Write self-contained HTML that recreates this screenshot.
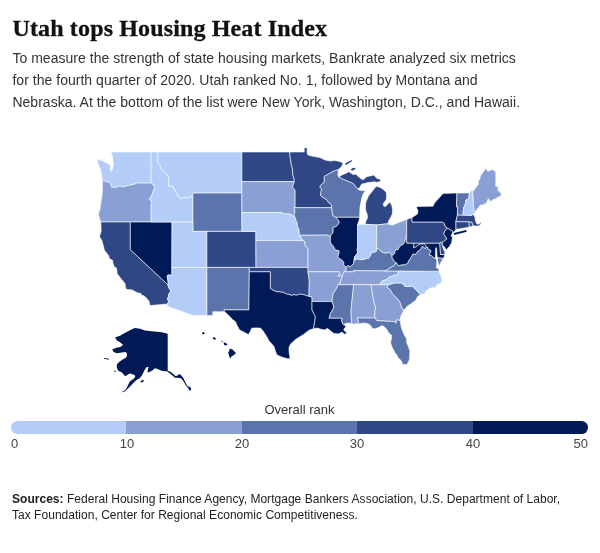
<!DOCTYPE html>
<html lang="en">
<head>
<meta charset="utf-8">
<title>Utah tops Housing Heat Index</title>
<style>
html,body{margin:0;padding:0;background:#fff;}
body{width:600px;height:553px;position:relative;overflow:hidden;font-family:"Liberation Sans",Arial,sans-serif;color:#333;}
h1{position:absolute;left:12.5px;top:12.5px;margin:0;font-family:"Liberation Serif","DejaVu Serif",serif;font-weight:700;font-size:24px;line-height:30px;color:#111;white-space:nowrap;letter-spacing:.14px;-webkit-text-stroke:.3px #111;}
p.desc{position:absolute;left:12.4px;top:47.3px;margin:0;font-size:14px;line-height:22px;color:#333;white-space:nowrap;letter-spacing:.03px;}
#map{position:absolute;left:0;top:130px;width:600px;height:270px;}
.legtitle{position:absolute;left:-0.5px;width:600px;top:401.6px;text-align:center;font-size:13px;line-height:16px;color:#333;}
.bar{position:absolute;left:11px;top:421px;width:577px;height:12.8px;border-radius:6.4px;overflow:hidden;display:flex;}
.bar i{display:block;flex:1 1 0;height:12.8px;}
.ticks span{position:absolute;top:436.3px;font-size:13px;line-height:16px;color:#444;width:40px;text-align:center;}
p.src{position:absolute;left:12px;top:490.6px;margin:0;font-size:12px;line-height:16px;color:#222;white-space:nowrap;letter-spacing:.028px;}
</style>
</head>
<body>
<h1>Utah tops Housing Heat Index</h1>
<p class="desc">To measure the strength of state housing markets, Bankrate analyzed six metrics<br>for the fourth quarter of 2020. Utah ranked No. 1, followed by Montana and<br>Nebraska. At the bottom of the list were New York, Washington, D.C., and Hawaii.</p>
<svg id="map" viewBox="0 130 600 270">
<g stroke="#fff" stroke-opacity=".75" stroke-width=".8" stroke-linejoin="round">
<path fill="#b3cdf8" d="M111.0,152.0L151.1,152.0L151.0,178.8L151.9,183.1L137.4,183.1L135.2,183.9L130.3,185.1L126.1,186.1L122.2,187.1L119.8,186.1L114.9,187.6L111.4,187.1L110.7,184.6L109.3,182.1L106.5,181.6L102.1,180.6L101.9,176.5L101.2,173.4L100.5,169.8L97.7,163.6L97.6,158.8L102.0,160.6L106.0,162.5L109.6,164.6L110.6,166.5L110.2,170.0L111.2,171.6L112.3,169.0L113.3,165.0L112.8,158.0Z"/>
<path fill="#8aa0d5" d="M102.1,180.6L102.5,184.1L102.3,193.1L101.8,197.0L99.9,209.2L98.4,214.2L99.4,218.3L100.8,222.0L130.3,222.0L151.1,222.0L151.1,204.8L151.6,202.9L151.5,200.5L149.8,200.0L149.9,198.0L152.0,194.7L152.4,193.4L153.4,190.6L154.9,187.1L153.4,185.1L151.9,183.1L137.4,183.1L135.2,183.9L130.3,185.1L126.1,186.1L122.2,187.1L119.8,186.1L114.9,187.6L111.4,187.1L110.7,184.6L109.3,182.1L106.5,181.6Z"/>
<path fill="#2f4785" d="M100.8,222.0L100.9,224.4L101.2,230.9L99.5,236.6L101.9,240.6L103.7,247.0L104.3,250.1L108.9,255.9L109.3,258.6L112.8,260.4L112.8,263.0L114.2,266.6L116.3,267.9L117.0,270.9L117.0,273.5L121.5,279.2L125.0,283.5L125.7,288.3L127.0,289.4L132.4,289.9L135.9,292.0L138.7,293.2L140.8,293.2L141.5,295.3L143.9,295.8L146.4,297.9L149.2,301.6L149.6,304.4L150.5,305.5L167.3,304.0L168.8,301.6L167.4,299.1L168.4,296.6L168.8,294.1L170.2,292.0L171.3,290.7L169.7,289.4L168.1,286.0L167.9,284.7L130.3,249.7L130.3,222.0Z"/>
<path fill="#001a57" d="M130.3,222.0L151.1,222.0L172.0,222.0L171.9,267.4L171.9,274.8L169.9,275.3L168.1,274.8L167.1,276.0L167.7,279.6L168.3,283.0L167.9,284.7L130.3,249.7Z"/>
<path fill="#b3cdf8" d="M151.1,152.0L157.9,152.0L157.9,162.6L160.4,165.7L160.4,168.3L163.2,170.4L165.6,172.9L168.2,176.5L169.1,180.1L168.8,183.1L168.4,186.1L172.7,186.2L174.0,188.6L176.1,192.6L177.5,195.1L180.4,198.5L184.1,197.4L187.0,198.0L189.7,197.0L190.0,195.9L191.3,196.3L192.2,197.5L192.9,198.2L192.9,222.0L172.0,222.0L151.1,222.0L151.1,204.8L151.6,202.9L151.5,200.5L149.8,200.0L149.9,198.0L152.0,194.7L152.4,193.4L153.4,190.6L154.9,187.1L153.4,185.1L151.9,183.1L151.0,178.8Z"/>
<path fill="#b3cdf8" d="M157.9,152.0L241.9,152.0L241.9,181.6L241.9,193.1L192.9,193.1L192.9,198.2L192.2,197.5L191.3,196.3L190.0,195.9L189.7,197.0L187.0,198.0L184.1,197.4L180.4,198.5L177.5,195.1L176.1,192.6L174.0,188.6L172.7,186.2L168.4,186.1L168.8,183.1L169.1,180.1L168.2,176.5L165.6,172.9L163.2,170.4L160.4,168.3L160.4,165.7L157.9,162.6Z"/>
<path fill="#5b75ac" d="M192.9,198.2L192.9,193.1L241.9,193.1L241.9,212.5L241.9,231.4L206.9,231.4L192.9,231.4L192.9,222.0Z"/>
<path fill="#b3cdf8" d="M172.0,222.0L192.9,222.0L192.9,231.4L206.9,231.4L206.9,267.4L171.9,267.4Z"/>
<path fill="#b3cdf8" d="M171.9,267.4L206.9,267.4L206.9,315.4L192.8,315.4L166.6,305.9L167.3,304.0L168.8,301.6L167.4,299.1L168.4,296.6L168.8,294.1L170.2,292.0L171.3,290.7L169.7,289.4L168.1,286.0L167.9,284.7L168.3,283.0L167.7,279.6L167.1,276.0L168.1,274.8L169.9,275.3L171.9,274.8Z"/>
<path fill="#2f4785" d="M206.9,231.4L241.9,231.4L255.9,231.4L255.9,240.6L256.0,267.4L249.3,267.4L206.9,267.4Z"/>
<path fill="#5b75ac" d="M206.9,267.4L249.3,267.4L249.3,271.8L248.9,309.9L224.0,309.9L224.6,311.7L212.8,311.7L212.8,315.4L206.9,315.4Z"/>
<path fill="#2f4785" d="M241.9,152.0L289.7,152.0L290.2,157.3L291.1,163.3L292.4,168.8L292.8,174.2L294.0,179.1L294.4,181.6L241.9,181.6Z"/>
<path fill="#8aa0d5" d="M241.9,181.6L294.4,181.6L292.4,187.1L295.1,190.1L295.1,207.7L294.1,207.7L294.8,210.6L294.8,212.5L293.9,214.9L295.1,217.4L293.4,216.4L291.3,214.8L288.5,213.8L285.0,214.0L280.8,212.5L241.9,212.5L241.9,193.1Z"/>
<path fill="#b3cdf8" d="M241.9,212.5L280.8,212.5L285.0,214.0L288.5,213.8L291.3,214.8L293.4,216.4L295.1,217.4L295.9,220.2L296.9,222.0L297.6,226.7L298.9,229.0L299.2,231.4L299.4,234.4L299.9,235.3L301.1,237.8L303.1,240.6L255.9,240.6L255.9,231.4L241.9,231.4Z"/>
<path fill="#8aa0d5" d="M255.9,240.6L303.1,240.6L305.3,242.0L304.6,244.7L306.0,246.5L308.0,248.8L308.0,267.4L256.0,267.4Z"/>
<path fill="#2f4785" d="M256.0,267.4L308.0,267.4L308.0,271.8L309.3,281.3L308.9,296.3L306.7,295.8L303.2,294.5L299.7,294.1L296.2,295.3L294.1,294.5L291.3,295.6L289.9,294.5L286.4,294.1L283.6,292.4L280.1,292.0L275.9,291.5L272.4,289.9L270.3,288.5L270.3,271.8L249.3,271.8L249.3,267.4Z"/>
<path fill="#001a57" d="M249.3,271.8L270.3,271.8L270.3,288.5L272.4,289.9L275.9,291.5L280.1,292.0L283.6,292.4L286.4,294.1L289.9,294.5L291.3,295.6L294.1,294.5L296.2,295.3L299.7,294.1L303.2,294.5L306.7,295.8L308.9,296.3L312.0,297.0L312.0,301.5L312.0,309.9L313.6,313.2L315.4,316.5L314.9,320.6L314.3,323.8L314.0,326.3L313.4,328.7L309.5,329.9L306.7,331.9L303.2,334.7L298.6,337.5L295.5,339.5L290.6,343.9L288.9,347.8L289.2,353.3L290.2,358.4L287.8,358.8L282.2,357.2L276.9,354.9L275.5,351.3L273.8,346.2L268.9,340.7L266.8,336.7L262.9,330.7L260.5,328.0L254.2,327.9L251.7,328.3L249.6,332.7L248.2,334.5L243.7,331.9L239.5,329.9L237.4,325.9L235.3,321.4L232.5,319.4L228.3,314.9L224.6,311.7L224.0,309.9L248.9,309.9Z"/>
<path fill="#2f4785" d="M289.7,152.0L304.2,152.0L304.2,147.7L307.1,147.7L307.1,152.8L308.0,155.0L314.0,156.5L320.0,157.5L325.0,160.0L330.0,161.0L334.5,160.5L340.0,161.5L343.0,163.0L342.0,166.0L338.5,169.5L333.0,171.5L328.5,174.0L324.3,176.4L324.3,182.3L322.1,183.9L320.2,185.8L320.1,187.4L321.7,189.1L320.8,192.6L320.7,195.6L322.6,197.3L326.1,199.2L328.7,202.4L331.5,204.8L331.8,207.7L295.1,207.7L295.1,190.1L292.4,187.1L294.4,181.6L294.0,179.1L292.8,174.2L292.4,168.8L291.1,163.3L290.2,157.3Z"/>
<path fill="#5b75ac" d="M295.1,207.7L331.8,207.7L332.2,212.1L332.8,215.4L335.8,217.3L339.1,221.1L339.0,223.5L336.3,226.5L332.9,227.5L333.3,230.5L332.6,233.2L331.2,234.8L330.4,237.1L328.2,235.1L299.9,235.3L299.4,234.4L299.2,231.4L298.9,229.0L297.6,226.7L296.9,222.0L295.9,220.2L295.1,217.4L293.9,214.9L294.8,212.5L294.8,210.6L294.1,207.7Z"/>
<path fill="#8aa0d5" d="M299.9,235.3L328.2,235.1L330.4,237.1L330.3,241.2L330.9,243.3L332.9,245.6L335.4,249.7L339.2,250.8L339.0,253.0L337.9,256.8L339.9,258.9L341.5,259.5L343.8,262.2L343.7,264.8L346.4,267.4L345.9,270.5L343.8,271.8L343.1,274.0L342.4,276.1L337.7,276.1L339.8,273.5L339.2,271.8L308.0,271.8L308.0,267.4L308.0,248.8L306.0,246.5L304.6,244.7L305.3,242.0L303.1,240.6L301.1,237.8Z"/>
<path fill="#8aa0d5" d="M308.0,271.8L339.2,271.8L339.8,273.5L337.7,276.1L342.4,276.1L341.0,279.6L339.8,283.5L338.2,284.7L336.2,289.0L333.3,293.2L332.2,298.3L332.1,301.6L312.0,301.5L312.0,297.0L308.9,296.3L309.3,281.3Z"/>
<path fill="#001a57" d="M312.0,301.5L332.1,301.6L334.0,307.0L332.6,309.9L330.4,313.6L329.1,318.1L342.2,318.1L341.5,320.6L342.5,323.0L343.6,324.8L344.1,325.1L345.9,325.9L345.2,327.5L343.8,329.1L344.5,331.1L346.6,332.3L345.9,334.3L344.1,333.9L342.4,332.3L340.6,332.7L338.2,333.9L334.0,333.5L331.9,331.9L329.8,330.3L327.4,328.3L324.9,329.9L322.1,329.5L317.2,328.1L313.4,328.7L314.0,326.3L314.3,323.8L314.9,320.6L315.4,316.5L313.6,313.2L312.0,309.9Z"/>
<path fill="#5b75ac" d="M338.5,169.5L337.8,175.0L338.8,176.9L343.3,179.3L348.3,181.3L352.9,183.3L355.0,185.4L357.5,188.8L359.5,190.2L362.0,190.4L365.5,190.8L363.4,193.5L361.8,198.0L360.0,207.0L359.6,217.3L335.8,217.3L332.8,215.4L332.2,212.1L331.8,207.7L331.5,204.8L328.7,202.4L326.1,199.2L322.6,197.3L320.7,195.6L320.8,192.6L321.7,189.1L320.1,187.4L320.2,185.8L322.1,183.9L324.3,182.3L324.3,176.4L328.5,174.0L333.0,171.5Z"/>
<path fill="#001a57" d="M335.8,217.3L359.6,217.3L359.2,220.0L357.6,224.3L357.6,246.5L357.2,249.7L357.6,252.5L356.7,254.2L354.6,256.8L354.1,260.4L353.6,263.5L351.1,266.1L350.1,266.7L347.6,265.7L346.4,267.4L343.7,264.8L343.8,262.2L341.5,259.5L339.9,258.9L337.9,256.8L339.0,253.0L339.2,250.8L335.4,249.7L332.9,245.6L330.9,243.3L330.3,241.2L330.4,237.1L331.2,234.8L332.6,233.2L333.3,230.5L332.9,227.5L336.3,226.5L339.0,223.5L339.1,221.1Z"/>
<path fill="#2f4785" d="M338.8,176.9L342.3,174.7L345.6,173.4L348.8,171.7L351.0,173.0L353.0,174.6L355.9,174.2L359.0,177.1L361.8,179.2L363.7,179.6L366.5,176.7L370.0,175.9L373.9,175.0L375.1,176.4L377.0,178.4L380.3,179.3L380.4,181.7L376.7,182.3L374.2,181.8L370.8,182.3L367.5,182.6L365.0,183.4L362.7,183.8L361.2,184.6L359.6,188.1L357.5,188.8L355.0,185.4L352.9,183.3L348.3,181.3L343.3,179.3ZM387.5,223.8L388.0,223.4L388.9,220.2L390.7,217.5L392.3,213.9L392.5,209.8L391.9,205.8L390.7,203.1L388.9,202.6L387.1,204.9L385.3,206.7L383.5,205.8L383.2,203.5L384.8,201.7L386.2,199.4L386.6,195.8L386.2,192.2L383.9,189.9L380.8,187.7L376.7,186.3L375.3,187.2L372.6,190.8L370.8,193.1L368.6,195.8L367.2,199.0L365.8,202.6L365.4,206.7L365.8,210.7L367.2,214.4L367.7,217.5L366.3,220.2L364.9,224.3L376.7,224.9Z"/>
<path fill="#b3cdf8" d="M357.6,224.3L364.9,224.3L376.7,224.9L376.6,248.8L376.4,251.5L373.9,252.4L372.5,252.1L371.1,254.6L370.0,256.2L368.6,258.6L366.2,258.6L364.1,259.5L360.9,259.9L357.3,259.1L354.6,260.4L354.1,260.4L354.6,256.8L356.7,254.2L357.6,252.5L357.2,249.7L357.6,246.5Z"/>
<path fill="#8aa0d5" d="M406.7,219.4L397.5,222.9L393.0,225.1L390.0,224.7L387.5,223.8L376.7,224.9L376.6,248.8L378.8,248.8L380.9,251.5L383.9,252.8L385.8,253.3L389.3,252.1L390.4,253.5L392.1,255.0L393.1,254.9L394.9,253.3L394.9,251.5L395.9,249.7L397.7,250.1L399.3,247.2L400.1,246.1L403.3,244.2L404.7,242.0L405.2,240.0L405.9,236.9L406.7,234.7Z"/>
<path fill="#5b75ac" d="M376.6,248.8L378.8,248.8L380.9,251.5L383.9,252.8L385.8,253.3L389.3,252.1L390.4,253.5L392.1,255.0L392.1,257.7L393.4,259.5L394.2,261.7L396.5,262.7L394.2,264.8L393.9,265.7L391.0,267.4L388.9,268.7L387.9,269.6L384.5,270.9L364.8,270.8L353.8,270.5L353.9,271.8L343.8,271.8L345.9,270.5L346.4,267.4L347.6,265.7L350.1,266.7L351.1,266.1L353.6,263.5L354.1,260.4L354.6,260.4L357.3,259.1L360.9,259.9L364.1,259.5L366.2,258.6L368.6,258.6L370.0,256.2L371.1,254.6L372.5,252.1L373.9,252.4L376.4,251.5Z"/>
<path fill="#8aa0d5" d="M343.8,271.8L353.9,271.8L353.8,270.5L364.8,270.8L384.5,270.9L398.5,271.0L398.3,273.1L395.9,275.3L393.5,275.3L392.1,276.6L390.0,276.6L388.6,278.1L385.8,279.9L382.3,280.9L380.5,282.6L380.1,284.7L371.0,284.7L352.9,284.7L338.2,284.7L339.8,283.5L341.0,279.6L342.4,276.1L343.1,274.0Z"/>
<path fill="#5b75ac" d="M338.2,284.7L352.9,284.7L353.6,285.6L351.3,307.5L351.0,310.8L351.5,323.4L350.4,323.4L348.0,323.0L344.9,323.8L343.6,324.8L342.5,323.0L341.5,320.6L342.2,318.1L329.1,318.1L330.4,313.6L332.6,309.9L334.0,307.0L332.1,301.6L332.2,298.3L333.3,293.2L336.2,289.0Z"/>
<path fill="#8aa0d5" d="M352.9,284.7L371.0,284.7L374.0,302.7L375.4,306.1L376.0,307.9L374.9,309.9L374.9,314.0L374.6,316.5L375.3,318.1L357.1,318.1L358.5,321.0L358.5,322.6L357.7,324.0L355.0,323.8L353.6,324.2L351.5,323.4L351.0,310.8L351.3,307.5L353.6,285.6Z"/>
<path fill="#8aa0d5" d="M371.0,284.7L380.1,284.7L388.5,284.7L386.9,287.3L389.6,289.0L390.7,290.3L392.4,293.7L396.5,297.7L399.8,301.6L401.2,305.8L402.6,309.3L404.4,309.7L403.6,310.8L401.9,314.0L400.5,316.9L400.1,320.5L396.6,319.8L396.3,321.4L395.9,323.4L394.9,321.6L389.3,321.4L376.3,320.5L375.3,318.1L374.6,316.5L374.9,314.0L374.9,309.9L376.0,307.9L375.4,306.1L374.0,302.7Z"/>
<path fill="#5b75ac" d="M357.7,324.0L358.5,322.6L358.5,321.0L357.1,318.1L375.3,318.1L376.3,320.5L389.3,321.4L394.9,321.6L395.9,323.4L396.3,321.4L396.6,319.8L400.1,320.5L400.5,323.0L401.2,327.1L403.3,332.7L405.0,336.3L406.6,338.7L406.6,342.3L408.2,346.2L409.8,350.6L409.8,355.3L409.4,359.8L408.2,361.9L407.5,363.8L406.1,364.6L402.6,364.6L401.5,361.1L399.8,359.2L397.7,357.2L396.6,354.5L394.9,352.9L394.2,351.0L392.4,347.8L391.3,345.0L390.5,342.3L391.5,339.1L391.4,335.1L389.1,333.3L388.2,331.9L386.5,329.1L383.7,326.3L381.6,325.5L379.5,327.1L375.6,328.7L372.9,328.7L370.4,325.5L369.0,324.2L364.8,323.0L360.6,323.4Z"/>
<path fill="#5b75ac" d="M388.5,284.7L394.2,283.0L402.9,283.0L402.9,284.3L403.8,283.9L404.7,286.3L412.6,286.4L420.4,294.5L417.6,296.6L416.0,300.0L414.1,301.6L411.0,303.7L407.9,305.8L405.7,307.9L404.4,309.7L402.6,309.3L401.2,305.8L399.8,301.6L396.5,297.7L392.4,293.7L390.7,290.3L389.6,289.0L386.9,287.3Z"/>
<path fill="#b3cdf8" d="M398.5,271.0L439.2,271.4L440.3,274.4L441.9,278.7L441.6,282.8L438.3,284.3L436.5,285.6L434.6,288.2L433.0,287.5L429.9,288.2L425.7,291.5L424.6,294.5L423.6,294.1L420.4,294.5L412.6,286.4L404.7,286.3L403.8,283.9L402.9,284.3L402.9,283.0L394.2,283.0L388.5,284.7L380.1,284.7L380.5,282.6L382.3,280.9L385.8,279.9L388.6,278.1L390.0,276.6L392.1,276.6L393.5,275.3L395.9,275.3L398.3,273.1Z"/>
<path fill="#5b75ac" d="M439.2,271.4L398.5,271.0L384.5,270.9L387.9,269.6L388.9,268.7L391.0,267.4L393.9,265.7L394.2,264.8L396.5,262.7L398.4,265.7L401.9,264.8L404.4,264.8L408.2,263.0L408.2,261.3L410.3,258.6L413.1,253.7L415.2,254.6L418.2,251.0L420.4,249.7L422.2,246.1L425.5,248.5L426.2,246.8L427.8,247.4L428.1,249.0L430.5,250.1L431.0,251.5L430.2,252.8L429.2,255.0L431.3,255.5L432.7,256.8L435.1,258.6L435.4,257.6L436.8,260.0L436.7,265.0L436.2,267.9L438.3,268.1ZM437.3,257.6L438.0,262.0L439.0,266.3L441.0,262.0L443.0,258.5L443.6,258.3Z"/>
<path fill="#001a57" d="M392.1,255.0L393.1,254.9L394.9,253.3L394.9,251.5L395.9,249.7L397.7,250.1L399.3,247.2L400.1,246.1L403.3,244.2L404.7,242.0L405.2,240.0L405.9,236.9L406.7,234.7L406.7,243.1L413.9,243.1L413.9,247.9L418.0,245.1L420.8,243.8L424.3,243.8L425.7,245.6L426.2,246.8L425.5,248.5L422.2,246.1L420.4,249.7L418.2,251.0L415.2,254.6L413.1,253.7L410.3,258.6L408.2,261.3L408.2,263.0L404.4,264.8L401.9,264.8L398.4,265.7L396.5,262.7L394.2,261.7L393.4,259.5L392.1,257.7Z"/>
<path fill="#001a57" d="M413.9,243.1L439.8,243.1L440.5,254.5L444.9,254.6L443.6,258.3L437.3,257.6L436.9,254.0L436.7,248.4L436.1,247.6L435.6,248.4L435.5,254.0L435.4,257.6L435.1,258.6L432.7,256.8L431.3,255.5L429.2,255.0L430.2,252.8L431.0,251.5L430.5,250.1L428.1,249.0L427.8,247.4L426.2,246.8L425.7,245.6L424.3,243.8L420.8,243.8L418.0,245.1L413.9,247.9Z"/>
<path fill="#2f4785" d="M439.8,243.1L441.1,242.1L442.4,242.4L441.8,244.2L442.5,246.1L443.2,248.8L444.7,251.6L444.9,254.6L440.5,254.5Z"/>
<path fill="#2f4785" d="M406.7,219.4L412.0,217.5L412.0,222.0L442.8,222.0L444.2,223.5L445.3,226.7L447.4,228.0L444.4,231.7L443.9,234.2L444.6,235.5L447.0,238.8L444.3,241.1L442.4,242.4L441.1,242.1L439.8,243.1L413.9,243.1L406.7,243.1L406.7,234.7Z"/>
<path fill="#001a57" d="M447.4,228.0L453.0,231.4L452.1,234.0L450.9,236.0L452.3,236.5L452.3,238.8L451.6,242.9L449.4,246.5L445.9,250.3L445.3,247.9L443.2,246.1L442.1,244.2L442.4,242.4L444.3,241.1L447.0,238.8L444.6,235.5L443.9,234.2L444.4,231.7Z"/>
<path fill="#001a57" d="M412.0,217.5L417.5,214.0L418.0,211.0L416.5,207.5L417.5,206.5L433.0,206.2L434.5,203.0L439.5,197.5L443.0,193.4L456.9,193.0L456.9,198.0L456.5,202.9L456.5,206.8L457.5,206.8L457.4,214.9L455.9,221.6L456.0,229.3L454.4,231.6L453.2,232.6L453.0,231.4L447.4,228.0L445.3,226.7L444.2,223.5L442.8,222.0L412.0,222.0Z"/>
<path fill="#2f4785" d="M456.0,229.3L455.9,221.6L469.0,221.7L469.4,226.9L462.0,228.6Z"/>
<path fill="#2f4785" d="M469.4,226.9L469.0,221.7L472.1,222.2L472.6,225.3L471.7,226.4Z"/>
<path fill="#2f4785" d="M457.4,214.9L463.1,215.1L471.2,215.4L472.5,214.6L473.8,214.9L474.9,217.2L475.4,220.3L476.3,223.1L477.6,224.4L479.7,223.5L480.4,222.2L481.1,222.8L480.4,224.6L478.5,225.9L476.2,226.1L473.9,225.8L472.6,225.3L472.1,222.2L469.0,221.7L455.9,221.6Z"/>
<path fill="#5b75ac" d="M456.9,193.0L469.8,193.0L469.1,195.6L468.4,199.0L465.9,200.0L465.6,202.9L464.9,205.3L463.6,207.7L463.1,212.5L463.1,215.1L457.4,214.9L457.5,206.8L456.5,206.8L456.5,202.9L456.9,198.0Z"/>
<path fill="#b3cdf8" d="M469.8,193.0L470.5,190.7L472.7,190.1L473.2,198.0L473.5,206.8L474.0,209.7L474.7,211.6L474.6,213.4L473.8,214.9L472.5,214.6L471.2,215.4L463.1,215.1L463.1,212.5L463.6,207.7L464.9,205.3L465.6,202.9L465.9,200.0L468.4,199.0L469.1,195.6Z"/>
<path fill="#8aa0d5" d="M501.6,194.9L501.3,194.1L499.3,191.3L497.9,190.3L498.3,187.1L495.7,186.1L495.8,183.7L495.8,172.2L494.8,171.3L492.1,169.3L490.1,170.4L488.0,171.2L486.9,169.8L485.8,168.2L480.3,176.0L479.9,179.1L478.2,181.1L478.5,183.6L477.5,185.6L475.4,188.1L474.6,189.6L474.4,190.6L472.7,190.1L473.2,198.0L473.5,206.8L474.0,209.7L474.7,211.6L474.6,213.4L477.0,209.2L478.9,207.3L479.6,205.8L481.4,204.8L482.0,205.3L483.8,204.4L485.9,203.4L486.9,201.9L488.4,198.5L489.0,200.0L489.7,201.4L492.2,200.5L493.9,199.0L495.4,199.0L497.4,197.5L499.2,196.8Z"/>
</g>
<g>
<path fill="#001a57" d="M453.8,232.9L458.0,231.9L462.0,230.9L466.2,230.0L466.8,231.7L462.0,233.0L458.0,234.0L454.2,234.9Z"/>
<path fill="#2f4785" d="M345.0,163.6L347.5,162.2L350.8,160.4L352.0,160.0L351.6,161.4L348.4,163.5L345.8,165.0ZM350.5,169.6L352.9,168.0L355.7,167.8L354.8,169.5L352.1,170.8Z"/>
</g>
<path fill="#001a57" d="M167.7,333.8L167.7,370.7L170.6,371.8L173.3,374L175.5,376.1L177.7,375.6L179.3,374L180.9,375L183.1,377.8L185.3,382.1L187.4,385.9L190.7,387.5L191.2,389.7L189.6,390.8L188,388L185.8,385.3L183.6,381.5L180.9,378.3L177.7,377.8L175,377.8L172.3,375.6L169.5,372.9L166.8,371.3L164.1,371.3L160.9,370.4L157.6,369.1L154.7,368.2L152.8,370.2L150,371.8L147.3,372.6L147.9,369.6L148.6,367.1L146.8,367.1L145.2,369.1L143.5,372.3L141.9,375.6L139.8,378L136.5,380.1L133.3,383L130,386.4L125.1,391.2L121.1,392.6L125.8,389.6L130,381.2L134,378.6L135.3,376.6L134.6,375L132.6,374.3L129.9,373.6L127.2,375L125.1,376.3L121.7,372.2L118.4,370.9L116.7,367.5L117,364.1L119.7,361.4L123.1,359.3L126.5,357.3L127.2,353.9L125.8,351.9L121.7,352.6L117,353.2L113.6,351.9L112.2,349.6L116.3,347.8L120.4,347.1L123.1,345.1L120.4,342.4L117,340.4L115,337.6L120.4,335.6L123.8,333.6L128.5,330.9L134.6,328L140,328.8L145,330.5L151.7,331.3L161.7,332.2ZM104.1,357.9L106.5,358.3L108.9,359L108.9,359.7L106.3,359.3L104,358.7ZM114.3,370.7L115.7,370.7L115.9,371.8L114.4,372ZM140.3,381.6L142.5,380.1L144.1,380.3L143.4,381.6L141.3,382.7Z"/>
<path fill="#001a57" d="M202.2,332.4L204.0,332.1L204.6,333.8L203,334.6L202,333.6ZM212.6,337.5L214.5,337.3L216,338.6L215.6,339.6L213.6,339.6ZM221,340.9L222.8,341L222.7,341.7L221,341.5ZM223.6,342.6L225.2,342.8L227.3,344L227.2,345L225,345.4L224,344.4ZM229.8,348.4L232.5,349.5L236,353L234,355L231.5,356.5L230,358.6L229,355.5L228.2,352.5L229.3,350.5Z"/>
</svg>
<div class="legtitle">Overall rank</div>
<div class="bar"><i style="background:#b3cdf8"></i><i style="background:#8aa0d5"></i><i style="background:#5b75ac"></i><i style="background:#2f4785"></i><i style="background:#001a57"></i></div>
<div class="ticks"><span style="left:11px;text-align:left">0</span><span style="left:107px">10</span><span style="left:222px">20</span><span style="left:337px">30</span><span style="left:453px">40</span><span style="left:548px;text-align:right">50</span></div>
<p class="src"><b>Sources:</b> Federal Housing Finance Agency, Mortgage Bankers Association, U.S. Department of Labor,<br>Tax Foundation, Center for Regional Economic Competitiveness.</p>
</body>
</html>
